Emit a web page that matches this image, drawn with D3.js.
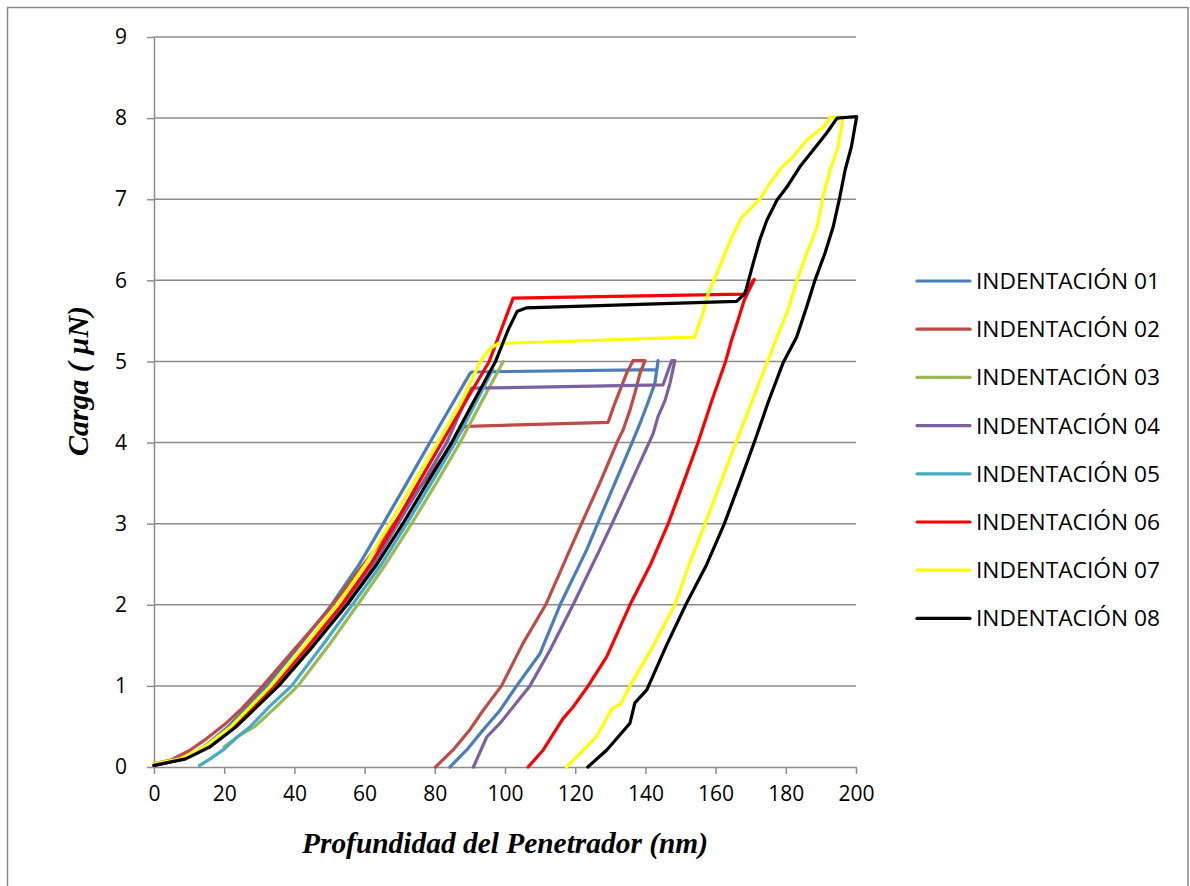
<!DOCTYPE html>
<html>
<head>
<meta charset="utf-8">
<script src="https://cdn.jsdelivr.net/npm/d3@7/dist/d3.min.js"></script>
<style>
  body { margin: 0; background: #fff; }
  svg { display: block; }
</style>
</head>
<body>
<svg id="chart"></svg>
<script>
var width = 1190,
    height = 886

// tick values
var xTicks = [0, 20, 40, 60, 80, 100, 120, 140, 160, 180, 200];
var yTicks = [0, 1, 2, 3, 4, 5, 6, 7, 8, 9];

var seriesNames = ["INDENTACIÓN 01", "INDENTACIÓN 02", "INDENTACIÓN 03", "INDENTACIÓN 04",
                   "INDENTACIÓN 05", "INDENTACIÓN 06", "INDENTACIÓN 07", "INDENTACIÓN 08"];
var seriesColors = ["#4A7EBB", "#BE4B48", "#98B954", "#7D60A0", "#46AAC5", "#FF0000", "#FFFF00", "#000000"];

// [depth nm, load uN]
var ind01 = [[0,0.02],[8,0.1],[14.3,0.25],[21.2,0.5],[32,1],[41.5,1.5],[50.6,2],[58.5,2.5],[65.3,3],[72,3.5],[78.6,4],[85.3,4.5],[90,4.85],
  [90.5,4.87],[143.3,4.9],[143.6,5.01],[142.7,4.73],[140.7,4.49],[138.5,4.24],[136.5,4.03],[131.3,3.5],[126.4,3],[123.3,2.68],
  [115.7,2],[110,1.4],[103.3,1],[98.6,0.7],[93.8,0.46],[89.1,0.21],[84.3,0]];
var ind02 = [[0,0.04],[5,0.09],[10,0.2],[15,0.35],[20,0.52],[25,0.72],[31,1],[40,1.45],[50,1.95],[58,2.4],[66,2.85],[74,3.35],[82,3.8],[88.5,4.2],
  [89,4.2],[129.4,4.25],[130.9,4.44],[132.8,4.65],[134.7,4.86],[136.5,5.01],[139.9,5.01],[138.5,4.86],[137,4.61],[135.6,4.4],[133.7,4.16],
  [132.2,4.03],[127,3.5],[121.8,3],[118.5,2.68],[111.6,2],[105.2,1.53],[99,1],[93.8,0.7],[90,0.46],[85.2,0.21],[80.2,0]];
var ind03 = [[20,0.25],[24,0.38],[28.8,0.5],[35,0.75],[41,1],[49.8,1.5],[58,2],[66,2.5],[73.4,3],[80.4,3.5],[87.2,4],[93.3,4.5],[99.5,5]];
var ind04 = [[0,0.02],[8.7,0.1],[15.5,0.25],[23,0.5],[34.8,1],[44.8,1.5],[54.2,2],[62.5,2.5],[69.5,3],[76.5,3.5],[83.4,4],[88.5,4.5],[90.5,4.67],
  [145,4.71],[147.5,5.01],[148.4,5.01],[147,4.73],[145.6,4.52],[143.6,4.32],[142.2,4.11],[135.8,3.5],[130.5,3],[127,2.68],
  [119.4,2],[112.8,1.44],[107.1,1],[98.6,0.54],[94.8,0.37],[91,0]];
var ind05 = [[13,0.02],[16,0.1],[20,0.22],[24,0.38],[27.5,0.5],[33,0.75],[39.2,1],[48,1.5],[56.5,2],[64.8,2.5],[72,3],[79,3.5],[85.8,4],[91.8,4.5],[96.5,4.9]];
var ind06 = [[0,0.02],[8.5,0.1],[15,0.25],[22.5,0.5],[34,1],[44,1.5],[53.5,2],[61.7,2.5],[68.7,3],[75.3,3.5],[82,4],[88.7,4.5],[95.5,5],[99,5.4],[102.3,5.78],
  [168,5.83],[171,6.01],[168.2,5.76],[166.4,5.51],[164.6,5.27],[162.7,4.98],[158.8,4.5],[155,4],[150.8,3.5],[146.5,3],[141.5,2.5],
  [135.6,2],[129,1.36],[123.7,1],[119.4,0.74],[116.6,0.6],[115.7,0.54],[110.9,0.21],[106.6,0]];
var ind07 = [[0,0.04],[7.5,0.1],[14.5,0.25],[22,0.5],[33.3,1],[43,1.5],[52.3,2],[60.3,2.5],[67.2,3],[73.9,3.5],[80.8,4],[87.5,4.5],[93,5],[95.5,5.15],[98,5.22],
  [154,5.3],[156.4,5.6],[158,5.85],[160.4,6.09],[164.7,6.54],[167.5,6.78],[172.6,7],[175.5,7.2],[179,7.4],[182,7.52],[186,7.73],[191,7.9],[192.6,8.01],[196.3,8.01],
  [194.9,7.64],[192.6,7.36],[190.6,7.03],[188.9,6.66],[186,6.34],[183.2,6],[180.6,5.63],[177.5,5.3],[174.6,4.98],[170.3,4.5],[165.8,4],[161.4,3.5],
  [157,3],[152.5,2.5],[148.4,2],[142.3,1.5],[135.6,1],[133,0.78],[130.5,0.72],[126,0.37],[117.5,0]];
var ind08 = [[0,0.02],[9,0.1],[16,0.25],[23.5,0.5],[35.5,1],[45.5,1.5],[55,2],[63.5,2.5],[70.9,3],[77.8,3.5],[84.8,4],[91,4.5],[97.3,5],[101,5.4],[103.5,5.62],[106,5.66],
  [166,5.74],[168.4,5.84],[170.7,6.21],[172.6,6.5],[174.6,6.74],[177.5,6.99],[180.3,7.15],[184,7.4],[187.7,7.6],[191.7,7.82],[194.6,8],[200.2,8.02],
  [198.7,7.65],[196.9,7.36],[195.4,7.03],[193.5,6.66],[191.2,6.34],[188.3,6],[186,5.68],[183.1,5.3],[179.2,4.98],[175,4.5],[171,4],[166.8,3.5],
  [162.5,3],[157.5,2.5],[151.5,2],[146,1.5],[140.4,0.95],[137,0.79],[135.6,0.54],[129,0.21],[123.6,0]];

var seriesData = [ind01, ind02, ind03, ind04, ind05, ind06, ind07, ind08];

var plotLeft = 154, plotRight = 856, plotTop = 37, plotBottom = 767;

var svg = d3.select("svg#chart")
    .attr("width", width)
    .attr("height", height);

// outer frame
svg.append("rect")
    .attr("x", 7.5).attr("y", 7.5)
    .attr("width", 1180.5).attr("height", 900)
    .attr("fill", "#fff")
    .attr("stroke", "#8a8a8a")
    .attr("stroke-width", 1.5);

var x = d3.scaleLinear().domain([0, 200]).range([plotLeft, plotRight]);
var y = d3.scaleLinear().domain([0, 9]).range([plotBottom, plotTop]);

// horizontal grid
svg.append("g")
    .selectAll("line")
    .data(yTicks.slice(1))
    .enter()
    .append("line")
    .attr("x1", plotLeft).attr("x2", plotRight)
    .attr("y1", function(d){ return y(d) })
    .attr("y2", function(d){ return y(d) })
    .attr("stroke", "#8c8c8c")
    .attr("stroke-width", 1.5);

var xAxis = svg.append("g")
    .attr("transform", "translate(0," + plotBottom + ")")
    .call(d3.axisBottom(x).tickValues(xTicks).tickSize(7).tickPadding(12).tickSizeOuter(0));

var yAxis = svg.append("g")
    .attr("transform", "translate(" + plotLeft + ",0)")
    .call(d3.axisLeft(y).tickValues(yTicks).tickSize(7).tickPadding(20).tickSizeOuter(0));

[xAxis, yAxis].forEach(function(ax){
    ax.select(".domain").attr("stroke", "#8c8c8c").attr("stroke-width", 1.5);
    ax.selectAll(".tick line").attr("stroke", "#8c8c8c").attr("stroke-width", 1.5);
    ax.selectAll(".tick text")
        .attr("fill", "#000")
        .style("font-family", "'Open Sans', sans-serif")
        .style("font-size", "21px");
});

// lines
var line = d3.line()
    .x(function(d){ return x(d[0]) })
    .y(function(d){ return y(d[1]) });

svg.append("g")
    .selectAll("path")
    .data(seriesData)
    .enter()
    .append("path")
    .attr("d", line)
    .attr("fill", "none")
    .attr("stroke", function(d,i){ return seriesColors[i] })
    .attr("stroke-width", 3.2)
    .attr("stroke-linejoin", "round")
    .attr("stroke-linecap", "round");

// legend
var legend = svg.append("g")
    .selectAll("g")
    .data(seriesNames)
    .enter()
    .append("g")
    .attr("transform", function(d,i){
        return "translate(917," + (281 + i * 48.2) + ")";
    });

legend.append("line")
    .attr("x1", 0).attr("x2", 53)
    .attr("stroke", function(d,i){ return seriesColors[i] })
    .attr("stroke-width", 3.2)
    .attr("stroke-linecap", "round");

legend.append("text")
    .attr("x", 59)
    .attr("y", 8)
    .style("font-family", "'Open Sans', sans-serif")
    .style("font-size", "22px")
    .attr("textLength", 184)
    .attr("lengthAdjust", "spacingAndGlyphs")
    .text(function(d){ return d });

// axis titles
svg.append("text")
    .attr("x", 505).attr("y", 853)
    .attr("text-anchor", "middle")
    .style("font-family", "'Liberation Serif', serif")
    .style("font-weight", "bold")
    .style("font-style", "italic")
    .style("font-size", "29px")
    .attr("textLength", 406)
    .attr("lengthAdjust", "spacingAndGlyphs")
    .text("Profundidad del Penetrador (nm)");

svg.append("text")
    .attr("transform", "translate(88,381) rotate(-90)")
    .attr("text-anchor", "middle")
    .style("font-family", "'Liberation Serif', serif")
    .style("font-weight", "bold")
    .style("font-style", "italic")
    .style("font-size", "29px")
    .attr("textLength", 150)
    .attr("lengthAdjust", "spacingAndGlyphs")
    .text("Carga ( µN)");
</script>
</body>
</html>
